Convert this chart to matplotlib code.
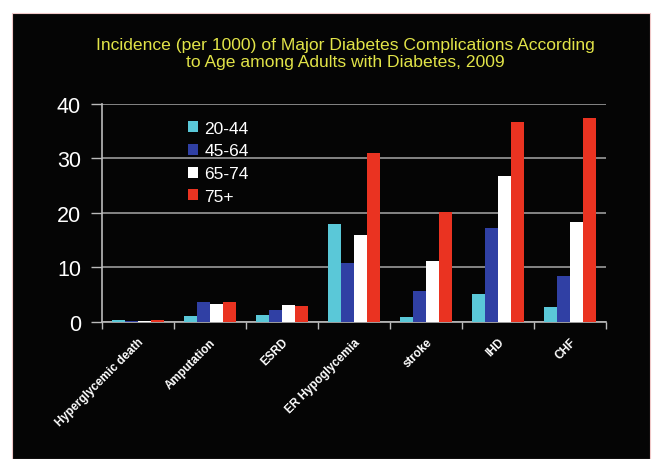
import numpy as np
import matplotlib
matplotlib.use('Agg')
import matplotlib.pyplot as plt
from matplotlib.patches import Rectangle

# Incidence per 1000
categories = ['Hyperglycemic death', 'Amputation', 'ESRD', 'ER Hypoglycemia',
              'stroke', 'IHD', 'CHF']
age_groups = ['20-44', '45-64', '65-74', '75+']
age_20_44 = [0.4, 1.1, 1.3, 18.0, 0.9, 5.1, 2.7]
age_45_64 = [0.2, 3.7, 2.1, 10.8, 5.7, 17.2, 8.4]
age_65_74 = [0.2, 3.3, 3.1, 16.0, 11.2, 26.7, 18.4]
age_75_up = [0.3, 3.6, 2.9, 31.0, 20.2, 36.6, 37.5]
yticks = [0, 10, 20, 30, 40]

colors = ['#5ac8d8', '#3040a4', '#ffffff', '#ea3321']
series = [age_20_44, age_45_64, age_65_74, age_75_up]

plt.rcParams['font.family'] = ['Liberation Sans', 'DejaVu Sans']

fig = plt.figure(figsize=(6.57, 4.60), dpi=100)
fig.patch.set_facecolor('white')
# black slide background
fig.patches.append(Rectangle((12 / 657, 0), 638 / 657, 446 / 460,
                             transform=fig.transFigure, facecolor='#050505',
                             edgecolor='#f0c8c8', linewidth=0.8, zorder=-10))

ax = fig.add_axes([0.155, 0.298, 0.767, 0.474])
ax.patch.set_alpha(0)

x = np.arange(len(categories))
w = 0.18
for i, (vals, c, lab) in enumerate(zip(series, colors, age_groups)):
    ax.bar(x + (i - 1.5) * w, vals, width=w, color=c, label=lab, zorder=3)

ax.set_xlim(-0.5, len(categories) - 0.5)
ax.set_ylim(0, 40)
ax.set_yticks(yticks)
ax.set_yticklabels([str(v) for v in yticks], fontsize=15.5, color='white')
ax.yaxis.grid(True, color='#9a9a9a', linewidth=1.2, zorder=1)
ax.tick_params(axis='y', length=8, color='#bbbbbb', width=1.0, pad=7)

ax.set_xticks(x)
ax.set_xticklabels(categories, rotation=45, ha='right', rotation_mode='anchor',
                   fontsize=8.5, fontweight='bold', color='white')
ax.set_xticks(np.arange(len(categories) + 1) - 0.5, minor=True)
ax.tick_params(axis='x', which='major', length=0, pad=10)
ax.tick_params(axis='x', which='minor', length=5, color='#bbbbbb', width=1.0)

for s in ['top', 'right']:
    ax.spines[s].set_visible(False)
for s in ['left', 'bottom']:
    ax.spines[s].set_color('#bbbbbb')
    ax.spines[s].set_linewidth(1.2)

leg = ax.legend(loc='upper left', bbox_to_anchor=(0.14, 0.995), frameon=False,
                fontsize=12.5, handlelength=0.6, handleheight=0.6,
                handletextpad=0.35, labelspacing=0.45)
for t in leg.get_texts():
    t.set_color('white')

fig.text(0.525, 0.882,
         'Incidence (per 1000) of Major Diabetes Complications According\n'
         'to Age among Adults with Diabetes, 2009',
         ha='center', va='center', fontsize=12.6, color='#e2e448',
         linespacing=1.2)

plt.savefig('out.png', dpi=100)
